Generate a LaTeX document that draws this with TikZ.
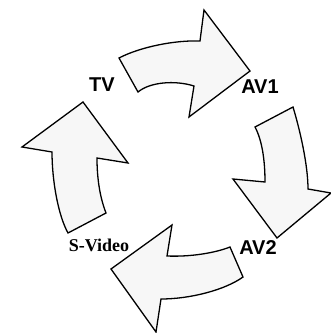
\documentclass[tikz,border=0pt]{standalone}
\usepackage{fontspec}
\setmainfont{Liberation Serif}
\setsansfont{Liberation Sans}
\begin{document}
\begin{tikzpicture}[x=1pt,y=-1pt,
  bigarrow/.style={draw=black,line width=1.3pt,line join=miter,fill=black!3},
  sanslabel/.style={font=\sffamily\bfseries\fontsize{20}{20}\selectfont,inner sep=0pt},
  seriflabel/.style={font=\rmfamily\bfseries\fontsize{18}{18}\selectfont,inner sep=0pt}]
\useasboundingbox (0,0) rectangle (331,333);
% top arrow TV -> AV1
\path[bigarrow] (119,58) .. controls (140,47) and (175,40) .. (200,41)
  -- (204,10) -- (250,71) -- (189,117) -- (194,86)
  .. controls (175,80) and (150,82) .. (138,92) -- cycle;
% right arrow AV1 -> AV2
\path[bigarrow] (293,107) .. controls (300,130) and (308,165) .. (308,189)
  -- (331,193) -- (277,238) -- (233,179) -- (265,182)
  .. controls (265,160) and (262,140) .. (255,127) -- cycle;
% bottom arrow AV2 -> S-Video
\path[bigarrow] (243,277) .. controls (225,290) and (190,299) .. (161,299)
  -- (156,332) -- (111,269) -- (172,225) -- (167,256)
  .. controls (190,257) and (215,253) .. (230,247) -- cycle;
% left arrow S-Video -> TV
\path[bigarrow] (68,233) .. controls (58,215) and (52,180) .. (52,152)
  -- (22,147) -- (83,102) -- (128,163) -- (97,158)
  .. controls (97,175) and (99,195) .. (106,213) -- cycle;
\node[sanslabel] (tv) at (102,85) {TV};
\node[sanslabel] (av1) at (260,87) {AV1};
\node[sanslabel] (av2) at (258,248) {AV2};
\node[seriflabel] (sv) at (99,245) {S-Video};
\end{tikzpicture}
\end{document}
